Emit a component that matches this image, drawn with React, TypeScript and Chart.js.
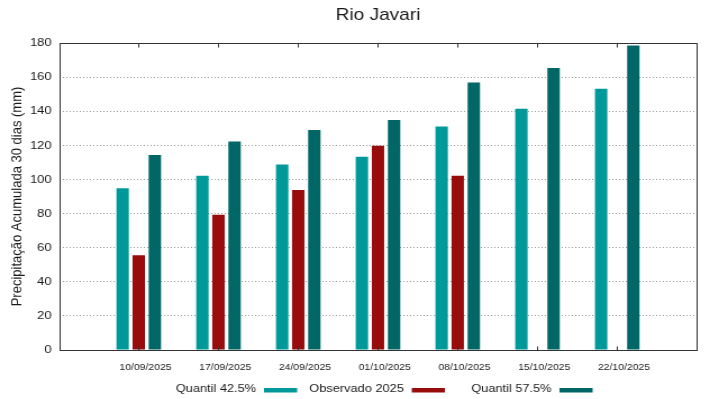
import { useEffect, useRef } from 'react';
import { Chart, registerables } from 'chart.js';

Chart.register(...registerables);

const chartTitle = 'Rio Javari';
const yAxisTitle = 'Precipitação Acumulada 30 dias (mm)';
const categories = ['10/09/2025', '17/09/2025', '24/09/2025', '01/10/2025', '08/10/2025', '15/10/2025', '22/10/2025'];
const quantil425 = [94.8, 102.2, 108.8, 113.3, 131.1, 141.4, 153.2];
const observado2025 = [55.5, 79.3, 93.8, 119.8, 102.2, null, null];
const quantil575 = [114.3, 122.3, 129.0, 134.8, 156.9, 165.3, 178.6];
const seriesLabels = ['Quantil 42.5%', 'Observado 2025', 'Quantil 57.5%'];
const seriesColors = ['#009999', '#990c0c', '#006666'];
const yMin = 0;
const yMax = 180;
const yStep = 20;

const FONT = "'Liberation Sans', Arial, sans-serif";
const TEXT = '#1a1a1a';

const framePlugin = {
  id: 'gnuFrame',
  afterDraw(chart: any) {
    const { ctx, chartArea: a, scales } = chart;
    const x = scales.x;
    ctx.save();
    ctx.strokeStyle = '#333';
    ctx.lineWidth = 1;
    const l = Math.round(a.left) + 0.5;
    const t = Math.round(a.top) + 0.5;
    const r = Math.round(a.right) + 0.5;
    const b = Math.round(a.bottom) + 0.5;
    ctx.strokeRect(l, t, r - l, b - t);
    ctx.beginPath();
    categories.forEach((_, i) => {
      const px = Math.round(x.getPixelForValue(i + 1)) + 0.5;
      ctx.moveTo(px, t);
      ctx.lineTo(px, t + 4);
      ctx.moveTo(px, b);
      ctx.lineTo(px, b - 4);
    });
    ctx.stroke();

    // legend: text then sample (gnuplot style)
    ctx.font = `11.4px ${FONT}`;
    ctx.textAlign = 'right';
    ctx.textBaseline = 'alphabetic';
    chart.data.datasets.forEach((ds: any, i: number) => {
      const textEnd = 228 + i * 131.5;
      ctx.fillStyle = TEXT;
      ctx.fillText(ds.label, textEnd, 391.5);
      ctx.fillStyle = ds.backgroundColor;
      ctx.fillRect(textEnd + 7, 388, 29.5, 4.5);
    });
    ctx.restore();
  },
};

export default function App() {
  const canvasRef = useRef<HTMLCanvasElement | null>(null);

  useEffect(() => {
    document.body.style.margin = '0';
    const canvas = canvasRef.current;
    if (!canvas) return;
    const labels = ['', ...categories, ''];
    const pad = (arr: (number | null)[]) => [null, ...arr, null];
    const series = [quantil425, observado2025, quantil575];

    const chart = new Chart(canvas, {
      type: 'bar',
      data: {
        labels,
        datasets: series.map((s, i) => ({
          label: seriesLabels[i],
          data: pad(s),
          backgroundColor: seriesColors[i],
          borderWidth: 0,
          categoryPercentage: 0.605,
          barPercentage: 0.77,
        })),
      },
      options: {
        animation: false,
        responsive: true,
        maintainAspectRatio: false,
        layout: { padding: { left: 0, right: 19.6, top: 0, bottom: 0 } },
        plugins: {
          legend: { display: false },
          tooltip: { enabled: false },
          title: {
            display: true,
            text: chartTitle,
            fullSize: false,
            color: TEXT,
            font: { family: FONT, size: 17, weight: 'normal' as any },
            padding: { top: 5.5, bottom: 17.1 },
          },
        },
        scales: {
          x: {
            type: 'category',
            offset: false,
            grid: { display: false, drawTicks: false },
            border: { display: false },
            ticks: {
              autoSkip: false,
              maxRotation: 0,
              minRotation: 0,
              padding: 12,
              labelOffset: 6,
              color: TEXT,
              font: { family: FONT, size: 9.3 },
            },
            afterFit: (scale: any) => {
              scale.height = 49;
            },
          },
          y: {
            min: yMin,
            max: yMax,
            ticks: {
              stepSize: yStep,
              padding: 6.5,
              color: TEXT,
              font: { family: FONT, size: 11.6 },
            },
            grid: { color: '#999', lineWidth: 1, drawTicks: false },
            border: { display: false, dash: [1, 2] },
            title: {
              display: true,
              text: yAxisTitle,
              color: TEXT,
              font: { family: FONT, size: 13 },
              padding: { top: 7.3, bottom: 0 },
            },
            afterFit: (scale: any) => {
              scale.width = 52.5;
            },
          },
        },
      },
      plugins: [framePlugin],
    });
    return () => chart.destroy();
  }, []);

  return (
    <div style={{ width: 719, height: 399, overflow: 'hidden', background: '#fff' }}>
      <div
        style={{
          width: 640,
          height: 399,
          position: 'relative',
          transform: `scaleX(${719 / 640})`,
          transformOrigin: '0 0',
        }}
      >
        <canvas ref={canvasRef} />
      </div>
    </div>
  );
}
